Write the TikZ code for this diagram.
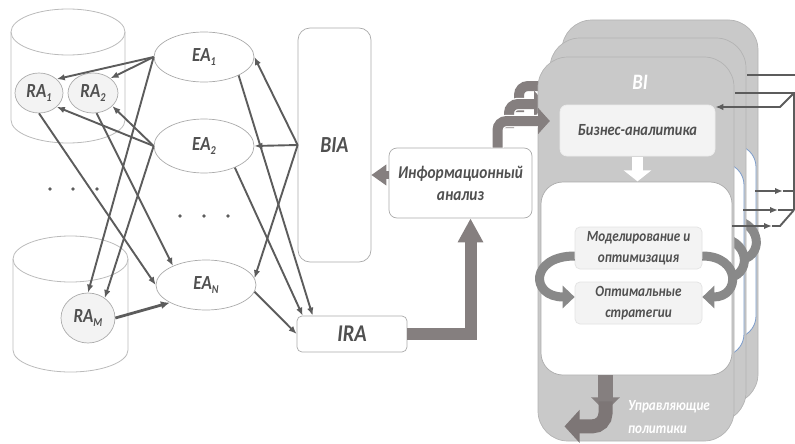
\documentclass[tikz,border=0pt]{standalone}
\usepackage{fontspec}
\newfontfamily\lbl{Carlito}[FakeStretch=0.85]
\usetikzlibrary{arrows.meta,shapes.geometric,calc}

\definecolor{ink}{HTML}{505050}
\definecolor{wire}{HTML}{5C5C5C}
\definecolor{edge}{HTML}{ABABAB}
\definecolor{cyledge}{HTML}{BBBBBB}
\definecolor{block}{HTML}{857F7F}
\definecolor{blockdark}{HTML}{7D7676}
\definecolor{curl}{HTML}{898989}
\definecolor{panel}{HTML}{C9C9C9}
\definecolor{paneledge}{HTML}{B3B3B3}
\definecolor{blueedge}{HTML}{7C9CCB}
\definecolor{soft}{HTML}{F3F3F3}

\newcommand\lblsize[1]{\lbl\bfseries\itshape\fontsize{#1}{#1}\selectfont}
\newcommand\lsub[1]{\raisebox{-0.35ex}{\fontsize{12}{12}\selectfont #1}}

\begin{document}
\begin{tikzpicture}[x=1pt,y=-1pt,
  agent/.style={ellipse, draw=edge, line width=0.7pt, fill=white, inner sep=0pt,
                text=ink, font=\lblsize{20}},
  ragent/.style={agent, fill=soft},
  box/.style={rectangle, rounded corners=#1, draw=edge, line width=0.7pt,
              fill=white, inner sep=0pt, text=ink},
  cyl/.style={draw=cyledge, line width=0.8pt},
  wirearrow/.style={draw=wire, line width=1.9pt, -{Latex[length=8pt,width=6.5pt]}},
  wireline/.style={draw=wire, line width=1.9pt},
  blockarrow/.style={draw=block, line width=12pt},
  entry/.style={draw=block, line width=10pt, rounded corners=9pt,
                preaction={draw=white, line width=12.5pt},
                -{Triangle[length=12pt,width=26pt]}},
  curlarrow/.style={draw=curl, line width=9pt, -{Triangle[length=12pt,width=22pt]}},
  panelbox/.style={fill=panel, draw=paneledge, line width=0.7pt, rounded corners=30pt},
  backsheet/.style={fill=white, draw=blueedge, line width=0.8pt, rounded corners=22pt},
  dot/.style={fill=wire}
]
\useasboundingbox (0,0) rectangle (795,444);

% ---- resource databases -------------------------------------------------
\draw[cyl] (11,32) -- (11,120)
  arc[start angle=180,end angle=360,x radius=57pt,y radius=23pt] -- (125,32);
\draw[cyl] (68,32) ellipse[x radius=57pt,y radius=23pt];
\draw[cyl] (13,259) -- (13,350)
  arc[start angle=180,end angle=360,x radius=57.5pt,y radius=22pt] -- (128,259);
\draw[cyl] (70.5,259) ellipse[x radius=57.5pt,y radius=23pt];

\foreach \px in {50,73,97} \fill[dot] (\px,189) circle[radius=1.8pt];
\foreach \px in {180,204,228} \fill[dot] (\px,216) circle[radius=1.8pt];

% ---- agents -----------------------------------------------------------
\node[ragent, minimum width=48pt, minimum height=40pt] (RA1) at (39,93) {RA\lsub{1}};
\node[ragent, minimum width=50pt, minimum height=40pt] (RA2) at (93,93) {RA\lsub{2}};
\node[ragent, minimum width=54pt, minimum height=50pt] (RAM) at (88,318) {RA\lsub{M}};
\node[agent, minimum width=100pt, minimum height=50pt] (EA1) at (204,57) {EA\lsub{1}};
\node[agent, minimum width=100pt, minimum height=54pt] (EA2) at (204,146) {EA\lsub{2}};
\node[agent, minimum width=100pt, minimum height=50pt] (EAN) at (206,285) {EA\lsub{N}};

\node[box=12pt, minimum width=73pt, minimum height=234pt, font=\lblsize{23}] (BIA) at (334.5,145) {BIA};
\node[box=5pt, minimum width=110pt, minimum height=36pt, font=\lblsize{24}] (IRA) at (352,334) {IRA};
\node[box=8pt, minimum width=143pt, minimum height=70pt, align=center,
      font={\lbl\bfseries\itshape\fontsize{18}{22}\selectfont}] (info) at (460.5,183)
      {Информационный\\анализ};

% ---- agent links --------------------------------------------------------
\draw[wirearrow] (EA1.west) -- (RA1.38);
\draw[wirearrow] (EA1.west) -- (RA2.40);
\draw[wirearrow] (EA2.west) -- (RA1.-38);
\draw[wirearrow] (EA2.west) -- (RA2.-34);
\draw[wirearrow] (EA1.west) -- (RAM.north);
\draw[wirearrow] (EA2.west) -- (RAM.50);
\draw[wirearrow] (RA1.south) -- (EAN.west);
\draw[wirearrow] (RA2.-80) -- (EAN.150);
\draw[wirearrow, line width=2.8pt, -{Latex[length=9pt,width=8pt]}] (RAM.east) -- (EAN.206);
\draw[wirearrow] (BIA.west) -- (EA1.east);
\draw[wirearrow] (BIA.west) -- (EA2.east);
\draw[wirearrow] (BIA.west) -- (EAN.8);
\draw[wirearrow] (EA1.-28) -- ($(IRA.north west)+(16,0)$);
\draw[wirearrow] (EA2.-35) -- ($(IRA.north west)+(6,0)$);
\draw[wirearrow] (EAN.-8) -- (IRA.west);

% ---- block arrows -------------------------------------------------------
\draw[blockarrow, -{Triangle[length=24pt,width=24pt]}] (IRA.east) -| ($(info.south)+(10,0)$);
\draw[blockarrow, line width=8pt, -{Triangle[length=15pt,width=20pt]}]
  ([yshift=8pt]info.west) -- ([yshift=8pt]info.west -| BIA.east);

% ---- stacked BI panels --------------------------------------------------
\coordinate (srcB) at (519,112);
\coordinate (tipB) at (562,86);
\coordinate (srcM) at (509,128);
\coordinate (tipM) at (546,104);

% back panel
\path[panelbox] (562,20) rectangle (758,404);
\path[backsheet] (565,145) rectangle (756,338);
\draw[curlarrow] (726,219) to[out=0,in=0,looseness=2.4] (726,260);
\draw[entry] (srcB) |- (tipB);

% middle panel
\path[panelbox] (550,38) rectangle (746,422);
\path[backsheet] (553,163) rectangle (744,356);
\draw[curlarrow] (714,237) to[out=0,in=0,looseness=2.4] (714,278);
\draw[entry] (srcM) |- (tipM);

% front panel
\path[panelbox] (538,57) rectangle (734,441);
\node[box=22pt, draw=edge, minimum width=191pt, minimum height=193pt] (fin) at (636.5,278.5) {};
\draw[entry] ([xshift=37pt]info.north) |- (550,121);

\node[font=\lblsize{22}, text=white, inner sep=0pt] (BI) at (640,82) {BI};
\node[box=7pt, fill=soft, draw=white!85!gray, minimum width=155pt, minimum height=51pt,
      font=\lblsize{17}] (BA) at (637.5,130.5) {Бизнес-аналитика};
\draw[white, line width=11pt, -{Triangle[length=11pt,width=27pt]}]
  ([yshift=-1pt]BA.south) -- ([yshift=-25pt]BA.south);

\node[box=5pt, fill=soft, draw=white!78!gray, minimum width=127pt, minimum height=42pt,
      align=center, font={\lbl\bfseries\itshape\fontsize{15.5}{21}\selectfont}]
      (model) at (638.5,248) {Моделирование и\\оптимизация};
\node[box=5pt, fill=soft, draw=white!78!gray, minimum width=127pt, minimum height=42pt,
      align=center, font={\lbl\bfseries\itshape\fontsize{15.5}{21}\selectfont}]
      (opt) at (638.5,303) {Оптимальные\\стратегии};
\draw[curlarrow] ([yshift=-8pt]model.west) to[out=180,in=180,looseness=2.8] ([yshift=6pt]opt.west);
\draw[curlarrow] ([yshift=-8pt]model.east) to[out=0,in=0,looseness=2.4] ([yshift=6pt]opt.east);

% control policies output
\draw[draw=block, line width=15pt, -{Triangle[length=14pt,width=28pt]}]
  ([xshift=-31pt]fin.south) -- ([xshift=-31pt,yshift=-36pt]fin.south);
\draw[draw=blockdark, line width=14pt, rounded corners=13pt, -{Triangle[length=15pt,width=32pt]}]
  ([xshift=-31pt,yshift=-26pt]fin.south) |- ([xshift=-72pt,yshift=-51pt]fin.south);
\node[anchor=base west, font=\lblsize{15.5}, text=white, inner sep=0pt] (pol1) at (628,410) {Управляющие};
\node[anchor=base west, font=\lblsize{15.5}, text=white, inner sep=0pt] (pol2) at (628,433) {политики};

% ---- feedback bus on the right ------------------------------------------
\coordinate (o1) at (747,75);
\coordinate (o1e) at (795,75);
\coordinate (o2) at (735,93);
\coordinate (busT) at (794,93);
\coordinate (busB) at (794,210);
\coordinate (bend) at (780,107);
\draw[wireline] (o1) -- (o1e);
\draw[wireline] (o2) -- (busT) -- (busB);
\draw[wirearrow] (busT) -- (bend) -- (bend -| BA.east);

\coordinate (i1) at (755,191);
\coordinate (t1) at (783,191);
\coordinate (j1) at (794,191);
\coordinate (i2) at (743,210);
\coordinate (t2) at (778,210);
\coordinate (i3) at (732,226);
\coordinate (t3) at (772,226);
\coordinate (k3) at (780,226);
\draw[wirearrow] (i1) -- (t1);
\draw[wireline] (t1) -- (j1);
\draw[wirearrow] (i2) -- (t2);
\draw[wireline] (t2) -- (busB);
\draw[wirearrow] (i3) -- (t3);
\draw[wireline] (t3) -- (k3) -- (busB);
\end{tikzpicture}
\end{document}
